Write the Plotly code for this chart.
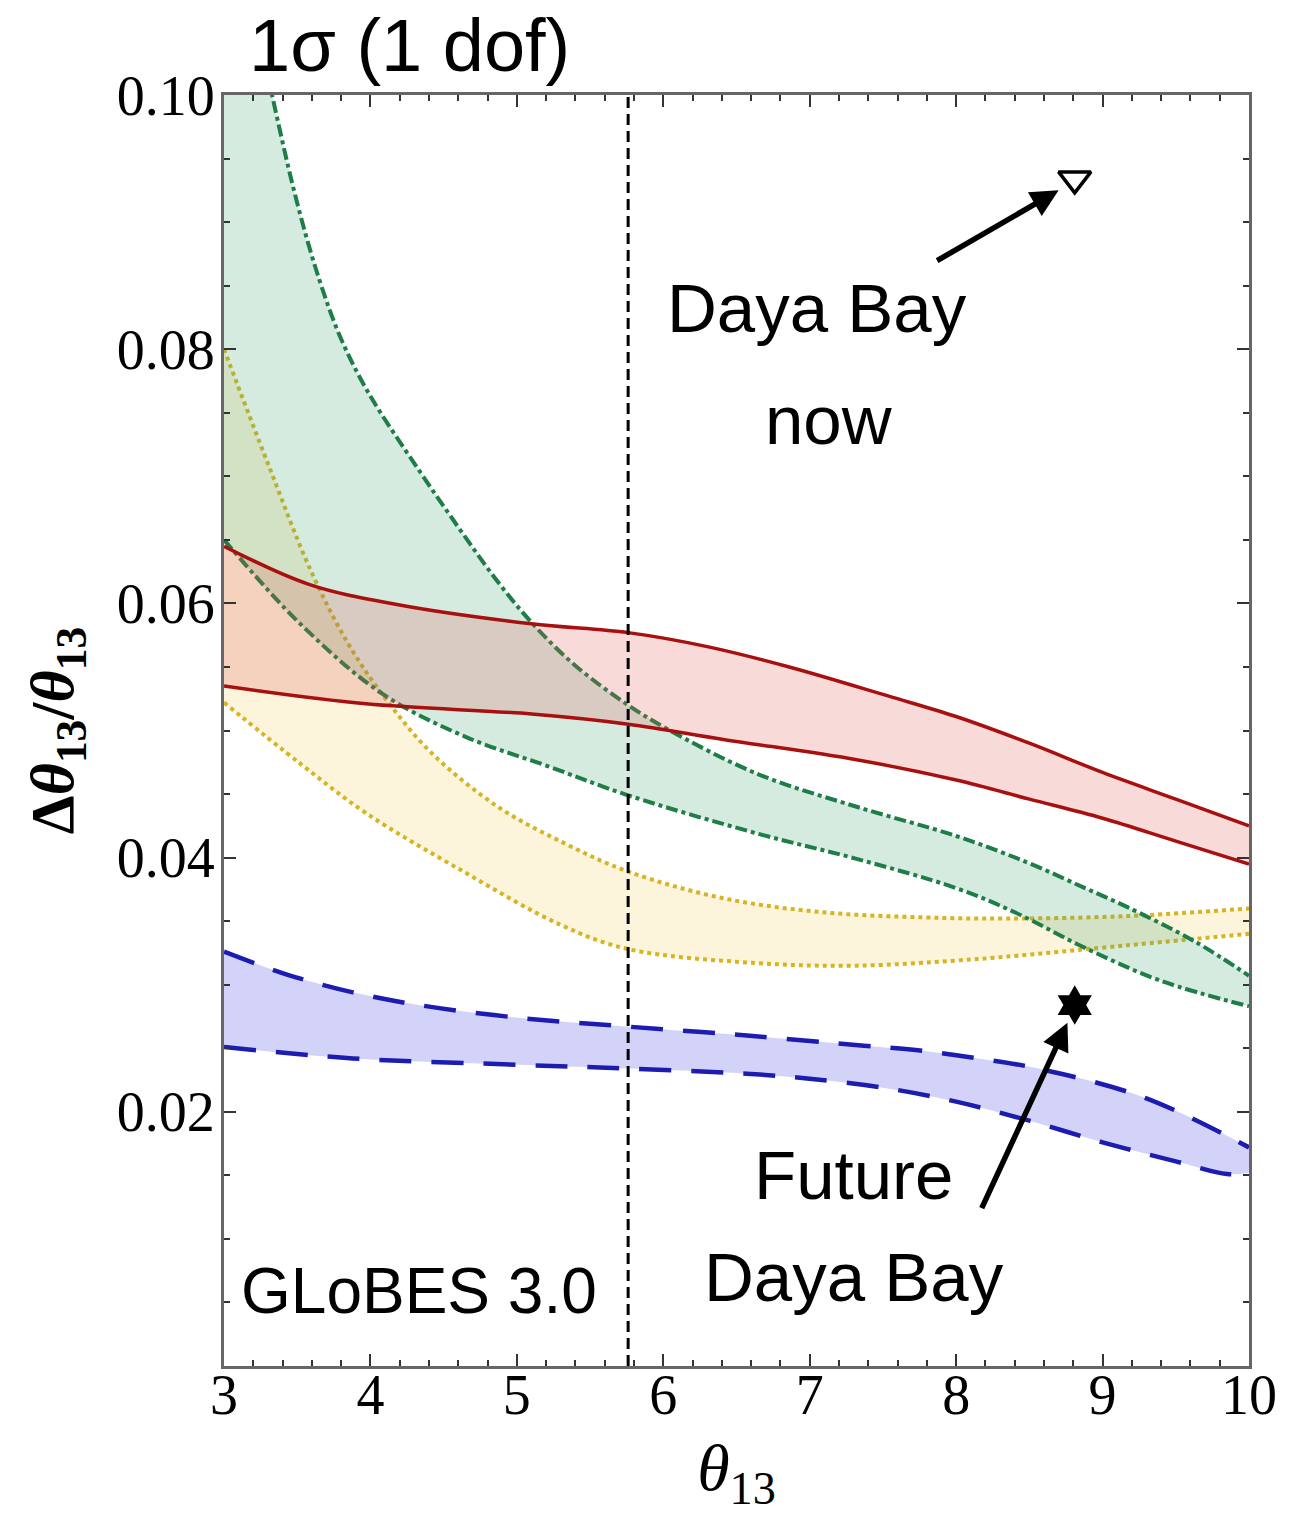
import plotly.graph_objects as go

# ---------------- data ----------------
green_up_x = [3.0, 3.33, 3.5, 3.65, 3.8, 3.99, 4.33, 4.6, 4.85, 5.10, 5.4, 5.76, 6.03, 6.64, 7.32, 8.0, 8.49, 8.88, 9.17, 9.63, 10.0]
green_up_y = [0.118, 0.0999, 0.0915, 0.0855, 0.0808, 0.0765, 0.0705, 0.0660, 0.0620, 0.0585, 0.0551, 0.0520, 0.0501, 0.0466, 0.0440, 0.0417, 0.0396, 0.0376, 0.0361, 0.0334, 0.0307]
green_lo_x = [3.0, 3.52, 4.08, 4.65, 5.21, 5.76, 6.64, 7.32, 8.0, 8.4, 8.88, 9.40, 10.0]
green_lo_y = [0.0650, 0.0584, 0.0529, 0.0495, 0.0472, 0.0449, 0.0419, 0.0399, 0.0376, 0.0357, 0.0329, 0.0303, 0.0283]

red_up_x = [3.0, 3.58, 4.19, 5.10, 5.76, 6.30, 6.86, 7.54, 8.0, 8.5, 9.0, 9.5, 10.0]
red_up_y = [0.0645, 0.0615, 0.0599, 0.0584, 0.0577, 0.0566, 0.0550, 0.0527, 0.0511, 0.0490, 0.0467, 0.0446, 0.0425]
red_lo_x = [3.0, 3.97, 5.10, 5.76, 6.41, 7.32, 8.0, 8.5, 9.0, 9.5, 10.0]
red_lo_y = [0.0535, 0.0521, 0.0513, 0.0505, 0.0493, 0.0477, 0.0461, 0.0446, 0.0431, 0.0413, 0.0395]

yel_up_x = [3.0, 3.3, 3.6, 3.86, 4.13, 4.42, 4.87, 5.33, 5.76, 6.41, 7.09, 7.77, 8.34, 9.17, 10.0]
yel_up_y = [0.0800, 0.0710, 0.0624, 0.0566, 0.0521, 0.0482, 0.0440, 0.0411, 0.0389, 0.0368, 0.0357, 0.0353, 0.0352, 0.0354, 0.0360]
yel_lo_x = [3.0, 3.52, 3.97, 4.65, 5.3, 5.76, 6.64, 7.32, 8.0, 8.34, 9.17, 10.0]
yel_lo_y = [0.0522, 0.0474, 0.0435, 0.0388, 0.0347, 0.0328, 0.0317, 0.0315, 0.0319, 0.0322, 0.0331, 0.0340]

blue_up_x = [3.0, 3.43, 3.88, 4.33, 5.01, 5.76, 6.57, 7.37, 7.77, 8.15, 8.56, 9.29, 10.0]
blue_up_y = [0.0326, 0.0308, 0.0294, 0.0284, 0.0274, 0.0267, 0.0260, 0.0252, 0.0248, 0.0242, 0.0234, 0.0211, 0.0172]
blue_lo_x = [3.0, 3.88, 5.01, 5.76, 6.57, 7.0, 7.5, 8.0, 8.5, 9.0, 9.5, 9.85, 10.0]
blue_lo_y = [0.0251, 0.0242, 0.0237, 0.0234, 0.0230, 0.0226, 0.0219, 0.0208, 0.0193, 0.0176, 0.0161, 0.0151, 0.0152]

ref_theta = 5.76                      # vertical dashed reference line
dyb_now = (8.81, 0.0934)              # Daya Bay now (open triangle)
dyb_future = (8.81, 0.0284)           # Future Daya Bay (star)
arrow_now = ((7.86, 0.0869), (8.70, 0.0925))       # tail, head
arrow_future = ((8.17, 0.0123), (8.76, 0.0270))    # tail, head

x_ticks = [3, 4, 5, 6, 7, 8, 9, 10]
y_ticks = [0.02, 0.04, 0.06, 0.08, 0.10]
y_ticklabels = ["0.02", "0.04", "0.06", "0.08", "0.10"]

# ---------------- figure ----------------
fig = go.Figure()

bands = [
    (blue_lo_x, blue_lo_y, blue_up_x, blue_up_y, "#1c1cb0", "rgba(110,110,235,0.30)", "32px,20px", 4.5),
    (yel_lo_x, yel_lo_y, yel_up_x, yel_up_y, "#d8b420", "rgba(240,205,90,0.22)", "dot", 4),
    (green_lo_x, green_lo_y, green_up_x, green_up_y, "#1f7d48", "rgba(70,165,115,0.22)", "dashdot", 4),
    (red_lo_x, red_lo_y, red_up_x, red_up_y, "#a81010", "rgba(225,90,80,0.22)", "solid", 3.5),
]
for lx, ly, ux, uy, lc, fc, dash, w in bands:
    fig.add_trace(go.Scatter(x=lx, y=ly, mode="lines", line=dict(color=lc, width=w, dash=dash, shape="spline", smoothing=1.0),
                             showlegend=False, hoverinfo="skip"))
    fig.add_trace(go.Scatter(x=ux, y=uy, mode="lines", line=dict(color=lc, width=w, dash=dash, shape="spline", smoothing=1.0),
                             fill="tonexty", fillcolor=fc, showlegend=False, hoverinfo="skip"))

# vertical dashed line
fig.add_trace(go.Scatter(x=[ref_theta, ref_theta], y=[0, 0.1], mode="lines",
                         line=dict(color="black", width=3, dash="11px,6px"), showlegend=False, hoverinfo="skip"))

# markers
fig.add_trace(go.Scatter(x=[dyb_now[0]], y=[dyb_now[1]], mode="markers",
                         marker=dict(symbol="triangle-down-open", size=28, color="black", line=dict(width=3.5, color="black")),
                         showlegend=False, hoverinfo="skip"))
fig.add_trace(go.Scatter(x=[dyb_future[0]], y=[dyb_future[1]], mode="markers",
                         marker=dict(symbol="hexagram", size=30, color="black", line=dict(width=0)),
                         showlegend=False, hoverinfo="skip"))

# arrows
for (tx, ty), (hx, hy) in [arrow_now, arrow_future]:
    fig.add_annotation(x=hx, y=hy, ax=tx, ay=ty, xref="x", yref="y", axref="x", ayref="y",
                       text="", showarrow=True, arrowhead=2, arrowsize=1.0, arrowwidth=5.5, arrowcolor="black")

sans = "Liberation Sans, Arial, sans-serif"
txtfont = dict(family=sans, size=69, color="black")
fig.add_annotation(x=7.05, y=0.0832, xref="x", yref="y", text="Daya Bay", showarrow=False, font=txtfont)
fig.add_annotation(x=7.13, y=0.0744, xref="x", yref="y", text="now", showarrow=False, font=txtfont)
fig.add_annotation(x=7.30, y=0.0150, xref="x", yref="y", text="Future", showarrow=False, font=txtfont)
fig.add_annotation(x=7.30, y=0.0070, xref="x", yref="y", text="Daya Bay", showarrow=False, font=txtfont)
fig.add_annotation(x=4.33, y=0.0059, xref="x", yref="y", text="GLoBES 3.0", showarrow=False,
                   font=dict(family=sans, size=64, color="black"))
fig.add_annotation(x=0.181, y=1.039, xref="paper", yref="paper", text="1σ (1 dof)", showarrow=False,
                   font=dict(family=sans, size=74, color="black"), xanchor="center", yanchor="middle")

serif = "Liberation Serif, Times New Roman, serif"
fig.update_xaxes(range=[3, 10], tickvals=x_ticks, ticks="inside", ticklen=12, tickwidth=2, tickcolor="#333",
                 minor=dict(ticks="inside", dtick=0.2, ticklen=6, tickwidth=1.5, tickcolor="#333"),
                 showline=True, linecolor="#666", linewidth=3, mirror="ticks", showgrid=False, zeroline=False,
                 tickfont=dict(family=serif, size=56, color="black"), ticklabelstandoff=-22,
                 title=dict(text="<i>θ</i><sub>13</sub>", font=dict(family=serif, size=66, color="black"), standoff=30))
fig.update_yaxes(range=[0, 0.1], tickvals=y_ticks, ticktext=y_ticklabels, ticks="inside", ticklen=12, tickwidth=2, tickcolor="#333",
                 minor=dict(ticks="inside", dtick=0.005, ticklen=6, tickwidth=1.5, tickcolor="#333"),
                 showline=True, linecolor="#666", linewidth=3, mirror="ticks", showgrid=False, zeroline=False,
                 tickfont=dict(family=serif, size=56, color="black"), ticklabelstandoff=-5,
                 title=dict(text="<b>Δ<i>θ</i><sub>13</sub>/<i>θ</i><sub>13</sub></b>", font=dict(family=serif, size=62, color="black"), standoff=24))

fig.update_layout(width=1289, height=1514, margin=dict(l=224, r=34, t=95, b=144),
                  paper_bgcolor="white", plot_bgcolor="white", showlegend=False)

fig.write_html("out.html")
